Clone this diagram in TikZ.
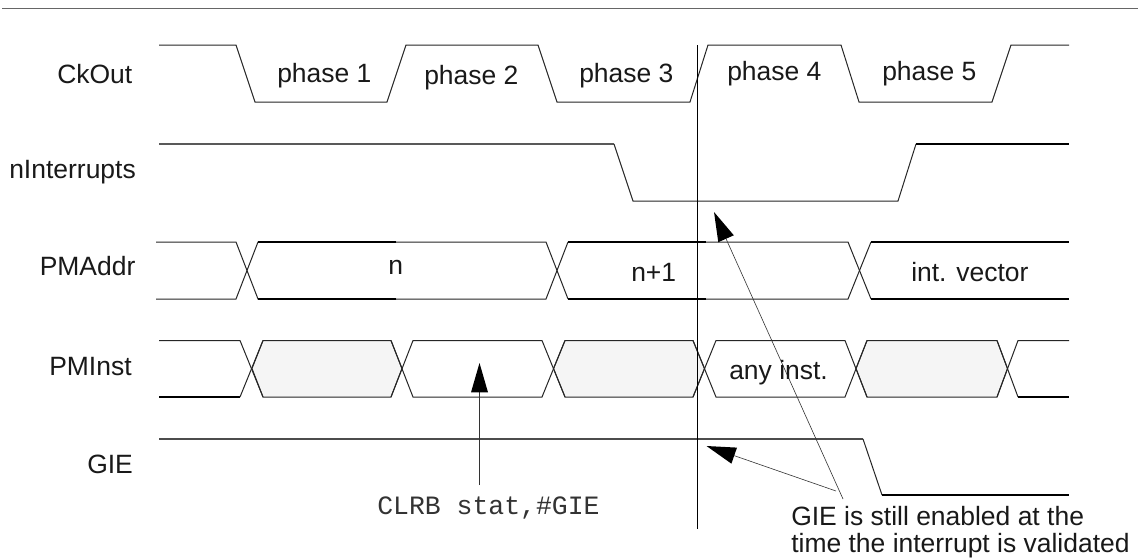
\documentclass[tikz,border=0pt]{standalone}
\usepackage{fontspec}
\setmainfont{Liberation Sans}
\setmonofont{Liberation Mono}
\usetikzlibrary{arrows.meta}
\definecolor{shade}{gray}{0.96}
\tikzset{
  sig/.style={line width=0.75pt,black!85},
  thicksig/.style={line width=1.3pt,black},
  greysig/.style={line width=1.3pt,black!65},
  lbl/.style={anchor=base west,inner sep=0pt,font=\fontsize{19.85pt}{23.5pt}\selectfont,text=black!90},
  code/.style={anchor=base west,inner sep=0pt,font=\ttfamily\fontsize{19.85pt}{24pt}\selectfont,text=black!80},
  pointer/.style={line width=0.45pt,black!80,-{Triangle[length=22pt,width=12.75pt,line width=0pt,fill=black]}},
}
\begin{document}
\begin{tikzpicture}[x=0.75pt,y=-0.75pt]
\useasboundingbox (0,0) rectangle (1138,557);
\fill[white] (0,0) rectangle (1138,557);
\coordinate (ruleL) at (2,8.7); \coordinate (ruleR) at (1138,8.7);
\draw[line width=1pt,black!60] (ruleL) -- (ruleR);
% CkOut
\draw[sig] (159,45)--(236,45)--(255,102)--(387,102)--(406,45)--(538,45)--(557,102)--(690,102)--(708,45)--(841,45)--(859,102)--(992,102)--(1011,45)--(1069,45);
% nInterrupts
\draw[greysig] (159,144)--(614,144);
\draw[sig] (614,144)--(633,201)--(898,201)--(916,144);
\draw[thicksig] (916,144)--(1069,144);
% PMAddr
\draw[sig] (156,242)--(236,242)--(258,299)--(396,299);
\draw[sig] (156,299)--(236,299)--(258,242)--(396,242);
\draw[thicksig] (258,242)--(396,242) (258,299)--(396,299);
\draw[sig] (396,242)--(546,242)--(568,299);
\draw[sig] (396,299)--(546,299)--(568,242);
\draw[thicksig] (568,242)--(706,242) (568,299)--(706,299);
\draw[sig] (706,242)--(848,242)--(871,299);
\draw[sig] (706,299)--(848,299)--(871,242);
\draw[thicksig] (871,242)--(1069,242) (871,299)--(1069,299);
% PMInst
\filldraw[sig,fill=shade] (252,368.5)--(263,340.5)--(391,340.5)--(402,368.5)--(391,397)--(263,397)--cycle;
\filldraw[sig,fill=shade] (553.5,368.5)--(565,340.5)--(693,340.5)--(704.5,368.5)--(693,397)--(565,397)--cycle;
\filldraw[sig,fill=shade] (856,368.5)--(867,340.5)--(997,340.5)--(1007.5,368.5)--(997,397)--(867,397)--cycle;
\draw[sig] (159,340.5)--(240,340.5)--(263,397);
\draw[thicksig] (159,397)--(240,397);
\draw[sig] (240,397)--(263,340.5);
\draw[sig] (391,340.5)--(413,397)--(542,397)--(565,340.5);
\draw[sig] (391,397)--(413,340.5)--(542,340.5)--(565,397);
\draw[sig] (693,340.5)--(716,397)--(845,397)--(867,340.5);
\draw[sig] (693,397)--(716,340.5)--(845,340.5)--(867,397);
\draw[sig] (997,340.5)--(1018,397);
\draw[sig] (997,397)--(1018,340.5)--(1069,340.5);
\draw[thicksig] (1018,397)--(1069,397);
% GIE
\draw[line width=1pt,black!70] (159,439)--(863,439);
\draw[sig] (863,439)--(882,495);
\draw[thicksig] (882,495)--(1069,495);
% cursor
\coordinate (curT) at (697.5,45); \coordinate (curB) at (697.5,529);
\draw[line width=0.75pt,black] (curT)--(curB);
% pointers
\coordinate (a1s) at (479.5,485); \coordinate (a1t) at (479.5,363);
\coordinate (a2s) at (836,491); \coordinate (a2t) at (706.5,446);
\coordinate (a3s) at (843,499); \coordinate (a3t) at (714,212);
\draw[pointer,line width=0.75pt] (a1s)--(a1t);
\draw[pointer] (a2s)--(a2t);
\draw[pointer] (a3s)--(a3t);
% text
\node[lbl] (t1) at (277,82) {phase 1};
\node[lbl] (t2) at (424,84) {phase 2};
\node[lbl] (t3) at (579,82) {phase 3};
\node[lbl] (t4) at (727,80) {phase 4};
\node[lbl] (t5) at (882,80) {phase 5};
\node[lbl] (tn) at (388,274) {n};
\node[lbl] (tn1) at (631,281) {n+1};
\node[lbl] (tv) at (911,281) {int. vector};
\node[lbl] (ta) at (729,379) {any inst.};
\node[lbl] (l1) at (57,83) {CkOut};
\node[lbl] (l2) at (9,178) {nInterrupts};
\node[lbl] (l3) at (39.5,275) {PMAddr};
\node[lbl] (l4) at (49,375) {PMInst};
\node[lbl] (l5) at (87,473) {GIE};
\node[code] (c) at (377,514) {CLRB stat,\#GIE};
\node[lbl] (g1) at (791,525) {GIE is still enabled at the};
\node[lbl] (g2) at (791,552) {time the interrupt is validated};
\end{tikzpicture}
\end{document}
